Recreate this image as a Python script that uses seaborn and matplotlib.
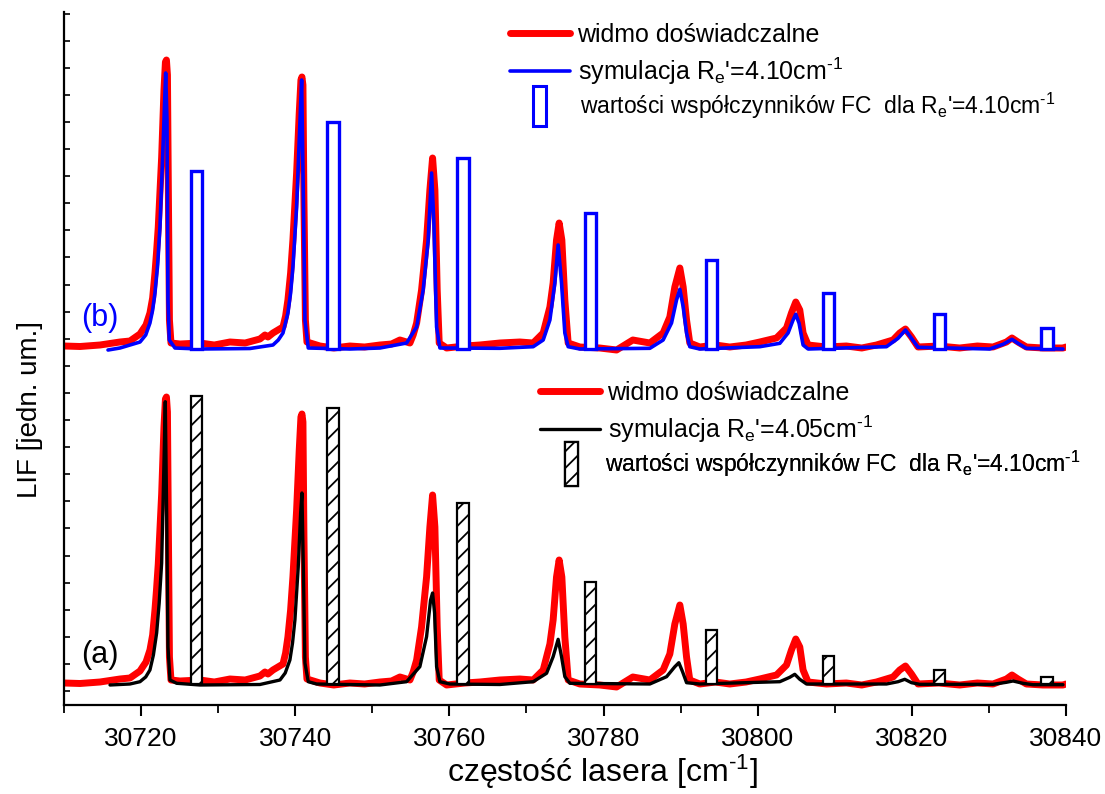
import numpy as np
import pandas as pd
import matplotlib
matplotlib.use("Agg")
import matplotlib.pyplot as plt
import seaborn as sns
from matplotlib.lines import Line2D
from matplotlib.patches import Rectangle
from matplotlib.legend_handler import HandlerPatch
from matplotlib.ticker import MultipleLocator, FixedLocator

# ---------------- data ----------------
# experimental LIF spectrum (a.u.), plotted twice: (a) as is, (b) shifted up
exp_x = [30710.00, 30712.08, 30714.67, 30717.26, 30718.56, 30719.86, 30720.2, 30720.64,
         30721.15, 30721.5, 30721.80, 30722.0, 30722.23, 30722.67, 30722.97, 30723.16,
         30723.29, 30723.42, 30723.55, 30723.68, 30723.88, 30725.05, 30727.64, 30729.5,
         30731.53, 30733.5, 30735.42, 30736.07, 30736.46, 30737.11, 30738.41, 30738.75,
         30739.05, 30739.4, 30739.70, 30740.18, 30740.52, 30740.74, 30740.87, 30741.00,
         30741.13, 30741.32, 30741.52, 30743.20, 30745.0, 30747.09, 30749.0, 30750.99,
         30752.5, 30753.58, 30754.88, 30755.3, 30755.75, 30756.39, 30757.04, 30757.47,
         30757.82, 30758.12, 30758.42, 30758.68, 30759.64, 30762.0, 30763.95, 30766.55,
         30769.14, 30770.87, 30772.17, 30773.04, 30773.46, 30773.90, 30774.24, 30774.59,
         30774.98, 30775.41, 30776.93, 30779.5, 30781.69, 30783.80, 30786.01, 30787.73,
         30788.60, 30789.25, 30789.90, 30790.33, 30790.77, 30791.19, 30792.49, 30794.5,
         30796.38, 30798.5, 30800.27, 30802.44, 30803.74, 30804.38, 30804.94, 30805.46,
         30805.89, 30806.54, 30808.92, 30811.5, 30813.5, 30815.41, 30817.56, 30818.43,
         30819.17, 30819.95, 30820.80, 30823.5, 30826.21, 30828.5, 30830.53, 30832.27,
         30832.99, 30833.77, 30834.86, 30837.0, 30839.61, 30840.0]
exp_y = [0.2, 0.15, 0.3, 0.6, 0.7, 1.4, 1.8, 2.3,
         3.5, 5.0, 7.5, 9.5, 12.1, 19.1, 25.8, 28.6,
         28.8, 27.3, 14.8, 2.8, 0.5, 0.4, 0.5, 0.3,
         0.6, 0.5, 0.9, 1.3, 1.1, 1.5, 2.1, 3.2,
         4.8, 7.5, 10.8, 17.5, 23.5, 26.8, 27.1, 26.3,
         14.8, 2.8, 0.6, 0.2, 0.0, 0.2, 0.1, 0.3,
         0.4, 0.8, 0.5, 1.3, 2.5, 5.8, 10.8, 15.8,
         19.0, 15.8, 5.8, 0.5, 0.0, 0.2, 0.3, 0.5,
         0.6, 0.5, 1.5, 4.1, 6.5, 10.8, 12.5, 10.8,
         4.8, 0.5, 0.1, 0.0, -0.2, 0.8, 0.5, 1.5,
         3.1, 6.1, 8.0, 6.1, 2.8, 0.5, 0.1, 0.3,
         0.1, 0.3, 0.6, 1.0, 2.0, 3.5, 4.6, 3.8,
         1.5, 0.3, 0.1, 0.2, 0.0, 0.3, 0.8, 1.5,
         1.9, 1.1, 0.1, 0.2, 0.0, 0.2, 0.1, 0.6,
         1.0, 0.6, 0.1, 0.0, 0.0, 0.1]
offset_b = 33.7

# simulation R_e'=4.10 cm-1 (panel b)
sim_b_x = [30715.71, 30717.26, 30719.86, 30720.6, 30721.15, 30721.5, 30721.80, 30722.15,
           30722.45, 30722.88, 30723.19, 30723.36, 30723.49, 30723.66, 30724.40, 30727.64,
           30734.12, 30737.11, 30737.8, 30738.41, 30739.05, 30739.4, 30739.70, 30740.18,
           30740.52, 30740.83, 30741.06, 30741.26, 30741.69, 30747.09, 30750.99, 30754.45,
           30755.75, 30756.60, 30757.25, 30757.69, 30757.99, 30758.34, 30758.77, 30766.55,
           30770.87, 30772.17, 30773.04, 30773.68, 30774.11, 30774.55, 30774.98, 30775.41,
           30776.93, 30786.01, 30787.73, 30788.82, 30789.47, 30789.90, 30790.33, 30790.77,
           30791.19, 30792.49, 30800.27, 30802.87, 30803.94, 30804.59, 30804.94, 30805.37,
           30805.89, 30806.54, 30816.71, 30818.21, 30819.17, 30819.95, 30820.80, 30830.10,
           30831.83, 30832.99, 30833.77, 30834.86, 30839.61]
sim_b_y = [33.5, 33.7, 34.3, 35.0, 36.2, 37.5, 39.2, 42.0,
           45.8, 54.5, 61.2, 56.5, 38.5, 34.5, 33.7, 33.6,
           33.65, 34.0, 34.5, 35.2, 37.2, 39.2, 41.8, 47.8,
           54.5, 60.5, 48.5, 36.5, 33.7, 33.6, 33.7, 34.2,
           35.8, 39.5, 44.5, 51.2, 46.2, 35.8, 33.7, 33.67,
           33.83, 34.5, 36.5, 40.2, 44.0, 40.2, 35.2, 33.83,
           33.6, 33.67, 34.5, 36.2, 38.5, 39.57, 37.83, 35.2,
           33.83, 33.6, 33.83, 34.17, 35.2, 36.5, 37.07, 36.17,
           34.0, 33.6, 33.83, 34.67, 35.5, 34.67, 33.77, 33.6,
           34.07, 34.57, 34.17, 33.67, 33.6]

# simulation R_e'=4.05 cm-1 (panel a)
sim_a_x = [30715.97, 30718.56, 30719.86, 30720.6, 30721.15, 30721.6, 30722.02, 30722.35,
           30722.67, 30722.97, 30723.14, 30723.32, 30723.49, 30723.75, 30724.62, 30727.64,
           30735.42, 30738.02, 30738.7, 30739.31, 30739.65, 30739.96, 30740.39, 30740.70,
           30740.87, 30741.04, 30741.26, 30741.69, 30742.78, 30750.99, 30754.45, 30756.17,
           30757.04, 30757.56, 30757.82, 30758.08, 30758.34, 30758.77, 30760.06, 30766.55,
           30770.87, 30772.61, 30773.46, 30774.11, 30774.55, 30774.98, 30775.63, 30786.01,
           30788.18, 30789.25, 30789.77, 30790.25, 30790.77, 30792.49, 30802.87, 30804.16,
           30804.81, 30805.46, 30806.33, 30816.71, 30818.21, 30819.08, 30819.95, 30821.02,
           30830.53, 30832.27, 30833.12, 30834.42, 30835.72, 30839.61]
sim_a_y = [0.0, 0.1, 0.33, 0.8, 1.5, 3.0, 5.2, 8.2,
           12.2, 22.2, 28.33, 17.2, 3.8, 0.5, 0.17, 0.0,
           0.05, 0.5, 1.2, 2.5, 4.2, 6.5, 11.8, 17.2,
           19.2, 12.2, 2.2, 0.33, 0.1, 0.0, 0.33, 1.83,
           4.83, 8.5, 9.2, 7.2, 1.83, 0.33, 0.1, 0.05,
           0.33, 1.17, 2.83, 4.57, 2.83, 0.83, 0.17, 0.1,
           0.83, 1.83, 2.23, 1.33, 0.23, 0.1, 0.33, 0.77,
           1.07, 0.57, 0.1, 0.1, 0.33, 0.57, 0.23, 0.07,
           0.07, 0.27, 0.4, 0.17, 0.03, 0.03]

# Franck-Condon factors (bar positions and heights)
fc_x = [30727.2, 30744.9, 30761.8, 30778.3, 30794.0, 30809.2, 30823.6, 30837.5]
fc_b = [17.8, 22.7, 19.1, 13.6, 8.9, 5.6, 3.5, 2.1]
fc_a = [28.8, 27.6, 18.1, 10.2, 5.4, 2.8, 1.4, 0.7]
fc_base_b = 33.6
fc_base_a = 0.15

x_major = [30720, 30740, 30760, 30780, 30800, 30820, 30840]

# ---------------- style ----------------
sns.set_style("ticks")
FONT = ["Liberation Sans", "DejaVu Sans"]
plt.rcParams["font.family"] = FONT
plt.rcParams["mathtext.fontset"] = "custom"
plt.rcParams["mathtext.rm"] = "Liberation Sans"
plt.rcParams["mathtext.it"] = "Liberation Sans:italic"
plt.rcParams["hatch.linewidth"] = 1.3
for k in ["text.color", "axes.labelcolor", "xtick.color", "ytick.color", "axes.edgecolor"]:
    plt.rcParams[k] = "black"

RED, BLUE, BLACK = "#ff0000", "#0000ff", "#000000"

fig = plt.figure(figsize=(11.05, 7.94), dpi=100)
ax = fig.add_axes([64 / 1105, 1 - 705 / 794, (1066 - 64) / 1105, (705 - 12) / 794])

df_exp_a = pd.DataFrame({"x": exp_x, "y": exp_y})
df_exp_b = pd.DataFrame({"x": exp_x, "y": np.array(exp_y) + offset_b})
df_sim_b = pd.DataFrame({"x": sim_b_x, "y": sim_b_y})
df_sim_a = pd.DataFrame({"x": sim_a_x, "y": sim_a_y})

red_kw = dict(color=RED, linewidth=5, solid_joinstyle="round", solid_capstyle="round")
sns.lineplot(data=df_exp_b, x="x", y="y", sort=False, estimator=None, ax=ax, zorder=2, **red_kw)
sns.lineplot(data=df_exp_a, x="x", y="y", sort=False, estimator=None, ax=ax, zorder=2, **red_kw)
sns.lineplot(data=df_sim_b, x="x", y="y", sort=False, estimator=None, ax=ax,
             color=BLUE, linewidth=2.6, zorder=3)
sns.lineplot(data=df_sim_a, x="x", y="y", sort=False, estimator=None, ax=ax,
             color=BLACK, linewidth=2.4, zorder=3)

ax.bar(fc_x, fc_b, width=1.5, bottom=fc_base_b, facecolor="white",
       edgecolor=BLUE, linewidth=2.4, zorder=5)
ax.bar(fc_x, fc_a, width=1.5, bottom=fc_base_a, facecolor="white",
       edgecolor=BLACK, linewidth=1.6, hatch="//", zorder=5)

# axes
ax.set_xlim(30710, 30840)
ax.set_ylim(-2.0, 67.3)
ax.set_xlabel("")
ax.set_ylabel("")
for s in ["top", "right"]:
    ax.spines[s].set_visible(False)
for s in ["left", "bottom"]:
    ax.spines[s].set_linewidth(1.6)
    ax.spines[s].set_color("black")
ax.xaxis.set_major_locator(FixedLocator(x_major))
ax.xaxis.set_minor_locator(MultipleLocator(10))
ax.tick_params(axis="x", which="major", direction="out", length=8, width=1.5,
               labelsize=19, pad=8, colors="black")
ax.tick_params(axis="x", which="minor", direction="out", length=6, width=1.3, colors="black")
ax.yaxis.set_major_locator(FixedLocator(np.arange(-0.6, 67.3, 2.71)))
ax.tick_params(axis="y", which="major", direction="in", length=4, width=1.2,
               labelleft=False, colors="black")
ax.grid(False)

fig.text(602 / 1105, 1 - 772 / 794, "częstość lasera [cm$^{\\text{-}1}$]", fontsize=23,
         ha="center", va="center")
fig.text(30 / 1105, 1 - 410 / 794, "LIF [jedn. um.]", fontsize=20, rotation=90,
         ha="center", va="center")

ax.text(30714.7, 36.7, "(b)", color=BLUE, fontsize=22, ha="center", va="center")
ax.text(30714.7, 3.0, "(a)", color=BLACK, fontsize=22, ha="center", va="center")


class TallBarHandler(HandlerPatch):
    def __init__(self, wfrac, hfrac, **kw):
        super().__init__(**kw)
        self.wfrac, self.hfrac = wfrac, hfrac

    def create_artists(self, legend, orig_handle, xdescent, ydescent, width, height,
                       fontsize, trans):
        w = self.wfrac * fontsize
        h = self.hfrac * fontsize
        x0 = -xdescent + width / 2 - w / 2
        y0 = -ydescent + height / 2 - h / 2
        p = Rectangle((x0, y0), w, h)
        self.update_prop(p, orig_handle, legend)
        p.set_transform(trans)
        return [p]


def ax_frac(px, py):
    return ((px - 64) / 1002, (705 - py) / 693)


def line_legend(handles, labels, left_px, top_py):
    leg = ax.legend(handles, labels, loc="upper left", bbox_to_anchor=ax_frac(left_px, top_py),
                    frameon=False, fontsize=18, handlelength=2.4, handletextpad=0.3,
                    labelspacing=0.33, borderpad=0, borderaxespad=0)
    ax.add_artist(leg)
    return leg


def bar_legend(handle, label, left_px, center_py, textpad, rect_h):
    leg = ax.legend([handle], [label], loc="center left",
                    bbox_to_anchor=ax_frac(left_px, center_py),
                    frameon=False, fontsize=16.5, handlelength=2.4, handletextpad=textpad,
                    borderpad=0, borderaxespad=0,
                    handler_map={Rectangle: TallBarHandler(0.57, rect_h)})
    ax.add_artist(leg)
    return leg


SUP = "$^{\\text{-}1}$"

# panel (b) legend
line_legend([Line2D([], [], **red_kw), Line2D([], [], color=BLUE, linewidth=2.6)],
            ["widmo doświadczalne", "symulacja R$_\\mathrm{e}$'=4.10cm" + SUP],
            510, 23)
bar_legend(Rectangle((0, 0), 1, 1, facecolor="white", edgecolor=BLUE, linewidth=2.2),
           "wartości współczynników FC  dla R$_\\mathrm{e}$'=4.10cm" + SUP,
           512, 106, 0.55, 1.75)

# panel (a) legend
line_legend([Line2D([], [], **red_kw), Line2D([], [], color=BLACK, linewidth=2.4)],
            ["widmo doświadczalne", "symulacja R$_\\mathrm{e}$'=4.05cm" + SUP],
            540, 381)
bar_legend(Rectangle((0, 0), 1, 1, facecolor="white", edgecolor=BLACK, linewidth=1.6, hatch="//"),
           "wartości współczynników FC  dla R$_\\mathrm{e}$'=4.10cm" + SUP,
           544, 464, 0.28, 1.9)

fig.savefig("out.png", dpi=100)
